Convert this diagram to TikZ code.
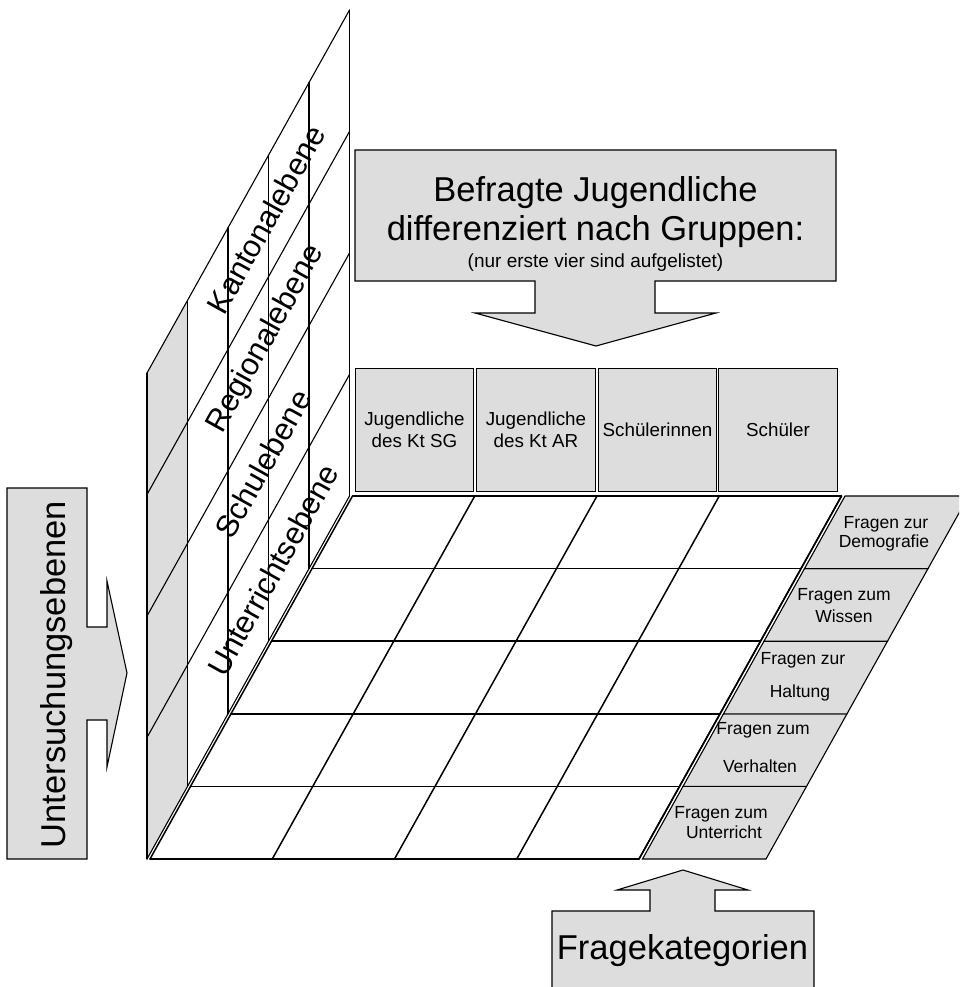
\documentclass[tikz,border=0pt]{standalone}
\usepackage{fontspec}
\setmainfont{Liberation Sans}
\definecolor{bgrey}{RGB}{221,221,221}
\begin{document}
\begin{tikzpicture}[x=1pt,y=-1pt,
  wall/.style={line width=1.1pt, line cap=round},
  gridline/.style={line width=1.5pt, line cap=round},
  shapegrey/.style={fill=bgrey, draw=black, line width=1.1pt, line join=miter},
  gbox/.style={draw=black, line width=1.3pt, fill=bgrey, minimum width=118.5pt, minimum height=123pt, inner sep=0pt, align=center, font=\fontsize{18.8}{22}\selectfont},
  flbl/.style={anchor=base, inner sep=0pt, font=\fontsize{17.5}{19}\selectfont},
  band/.style={rotate=60.9, inner sep=0pt, font=\fontsize{31}{31}\selectfont},
  bigtxt/.style={anchor=base, inner sep=0pt, font=\fontsize{34.5}{34.5}\selectfont},
]
\useasboundingbox (0,0) rectangle (959,987);
\clip (0,0) rectangle (959,987);
\fill[white] (0,0) rectangle (959,987);

% ---------- left arrow ----------
\draw[shapegrey] (7,488) -- (87,488) -- (87,627) -- (107,627) -- (107,581) -- (127,673) -- (107,767) -- (107,720) -- (87,720) -- (87,859) -- (7,859) -- cycle;
\node[bigtxt, rotate=90] (unt) at (65,674.5) {Untersuchungsebenen};

% ---------- top arrow ----------
\draw[shapegrey] (355,150) -- (836,150) -- (836,281) -- (655,281) -- (655,313) -- (716,313) -- (596,346) -- (475,313) -- (535,313) -- (535,281) -- (355,281) -- cycle;
\node[bigtxt] (t1) at (595.5,201) {Befragte Jugendliche};
\node[bigtxt] (t2) at (595.5,240) {differenziert nach Gruppen:};
\node[anchor=base, inner sep=0pt, font=\fontsize{19}{19}\selectfont] (t3) at (595.5,267) {(nur erste vier sind aufgelistet)};

% ---------- bottom arrow ----------
\draw[shapegrey] (552,995) -- (552,911) -- (650,911) -- (650,890) -- (617,890) -- (683,870) -- (748,890) -- (715,890) -- (715,911) -- (814,911) -- (814,995) -- cycle;
\node[bigtxt] (fk) at (682.5,959) {Fragekategorien};

% ---------- wall ----------
\fill[bgrey] (147,373) -- (187.5,300.4) -- (187.5,786.4) -- (147,859) -- cycle;
\foreach \k in {0,...,5}
  \draw[wall] ({147+40.5*\k},{373-72.6*\k}) -- ({147+40.5*\k},{859-72.6*\k});
\foreach \j in {0,...,3}
  \draw[wall] (147,{373+121.5*\j}) -- (349.5,{10+121.5*\j});
\draw[wall] (147,859) -- (349.5,496);

\node[band] (b1) at (266,219.5) {Kantonalebene};
\node[band] (b2) at (266,339) {Regionalebene};
\node[band] (b3) at (263,464) {Schulebene};
\node[band] (b4) at (273,570) {Unterrichtsebene};

% ---------- floor ----------
\draw[gridline] (150,859) -- (352.5,496);
\foreach \j in {0,...,5}
  \draw[gridline] ({150+40.5*\j},{859-72.6*\j}) -- ({639+40.5*\j},{859-72.6*\j});
\foreach \k in {1,...,4}
  \draw[gridline] ({150+122.25*\k},859) -- ({352.5+122.25*\k},496);
\draw[gridline] (639,859) -- (841.5,496);

% ---------- question categories ----------
\foreach \j in {0,...,4}
  \draw[shapegrey] ({642.5+40.5*\j},{859-72.6*\j}) -- ({766+40.5*\j},{859-72.6*\j})
     -- ({766+40.5*(\j+1)},{859-72.6*(\j+1)}) -- ({642.5+40.5*(\j+1)},{859-72.6*(\j+1)}) -- cycle;
\node[flbl] (q1a) at (886,528) {Fragen zur};
\node[flbl] (q1b) at (884,547) {Demografie};
\node[flbl] (q2a) at (844,600) {Fragen zum};
\node[flbl] (q2b) at (844,622) {Wissen};
\node[flbl] (q3a) at (803,664) {Fragen zur};
\node[flbl] (q3b) at (800,697) {Haltung};
\node[flbl] (q4a) at (763,734) {Fragen zum};
\node[flbl] (q4b) at (760,772) {Verhalten};
\node[flbl] (q5a) at (721,818) {Fragen zum};
\node[flbl] (q5b) at (724,838) {Unterricht};

% ---------- groups ----------
\node[gbox] (g1) at (414.5,430) {Jugendliche\\des Kt SG};
\node[gbox] (g2) at (536,430) {Jugendliche\\des Kt AR};
\node[gbox] (g3) at (657.5,430) {Schülerinnen};
\node[gbox] (g4) at (778,430) {Schüler};
\end{tikzpicture}
\end{document}
